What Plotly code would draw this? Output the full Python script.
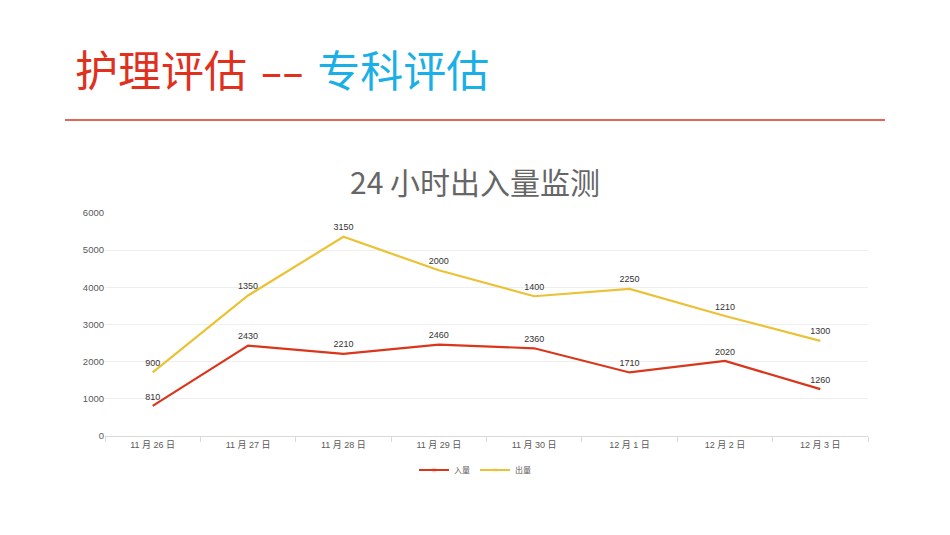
import plotly.graph_objects as go

# daily fluid intake / output, values as labelled on the chart
dates = ['11 月 26 日', '11 月 27 日', '11 月 28 日', '11 月 29 日',
         '11 月 30 日', '12 月 1 日', '12 月 2 日', '12 月 3 日']
intake = [810, 2430, 2210, 2460, 2360, 1710, 2020, 1260]
output = [900, 1350, 3150, 2000, 1400, 2250, 1210, 1300]
y_ticks = [0, 1000, 2000, 3000, 4000, 5000, 6000]

CJK = 'Noto Sans CJK SC'
FONT = 'Liberation Sans, Noto Sans CJK SC'
GREY = '#595959'

# page is drawn with an 8px body offset, so margins are shifted by 8
L, R, T, B = 97, 90, 205, 107
PW, PH = 950 - L - R, 535 - T - B

fig = go.Figure()

# stacked lines (no fill), labels show each series' own value
for name, vals, colour in [('入量', intake, '#D9361C'), ('出量', output, '#EBC235')]:
    fig.add_trace(go.Scatter(
        x=dates, y=vals, name=name, stackgroup='one', fill='none',
        mode='lines+markers+text', text=[str(v) for v in vals],
        textposition='top center',
        textfont=dict(size=9, color='#333333', family=FONT),
        marker=dict(size=5, opacity=0, color=colour),
        line=dict(color=colour, width=2.2), hoverinfo='x+text'
    ))

fig.update_layout(
    width=950, height=535,
    margin=dict(l=L, r=R, t=T, b=B),
    paper_bgcolor='white', plot_bgcolor='white',
    font=dict(family=FONT, color=GREY, size=9),
    title=dict(text='24 小时出入量监测', x=(475 - 8 - L) / PW, xref='paper',
               xanchor='center', y=1 - (183 - 8) / 535, yanchor='middle',
               yref='container', font=dict(size=30, color='#666666', family=CJK)),
    xaxis=dict(
        type='category', range=[-0.5, 7.5], showgrid=False,
        showline=True, linecolor='#D9D9D9', linewidth=1,
        ticks='outside', tickson='boundaries', ticklen=5, tickcolor='#D9D9D9',
        tickfont=dict(size=9, color=GREY)
    ),
    yaxis=dict(
        range=[0, 6000], tickvals=y_ticks, showgrid=True,
        gridcolor='#EEEEEE', gridwidth=1, zeroline=False,
        showline=False, ticks='', tickfont=dict(size=9.5, color=GREY)
    ),
    legend=dict(orientation='h', x=(475 - 8 - L) / PW, xanchor='center',
                y=-(470 - 8 - T - PH) / PH, yanchor='middle',
                font=dict(size=8, color=GREY, family=CJK), itemwidth=30),
    shapes=[dict(type='line', xref='paper', yref='paper',
                 x0=(65 - 8 - L) / PW, x1=(885 - 8 - L) / PW,
                 y0=1 + (T - 112) / PH, y1=1 + (T - 112) / PH,
                 line=dict(color='#D9361C', width=1.5))],
    annotations=[dict(
        x=(73 - 8 - L) / PW, y=1 + (T - 60) / PH, xref='paper', yref='paper',
        showarrow=False, xanchor='left', yanchor='middle',
        text='<span style="color:#E0301E">护理评估</span>'
             '<span style="color:#E0301E;font-family:DejaVu Sans"> \u2013\u2013 </span>'
             '<span style="color:#1AAFE6">专科评估</span>',
        font=dict(size=43, family=CJK)
    )]
)

fig.write_html('out.html')
